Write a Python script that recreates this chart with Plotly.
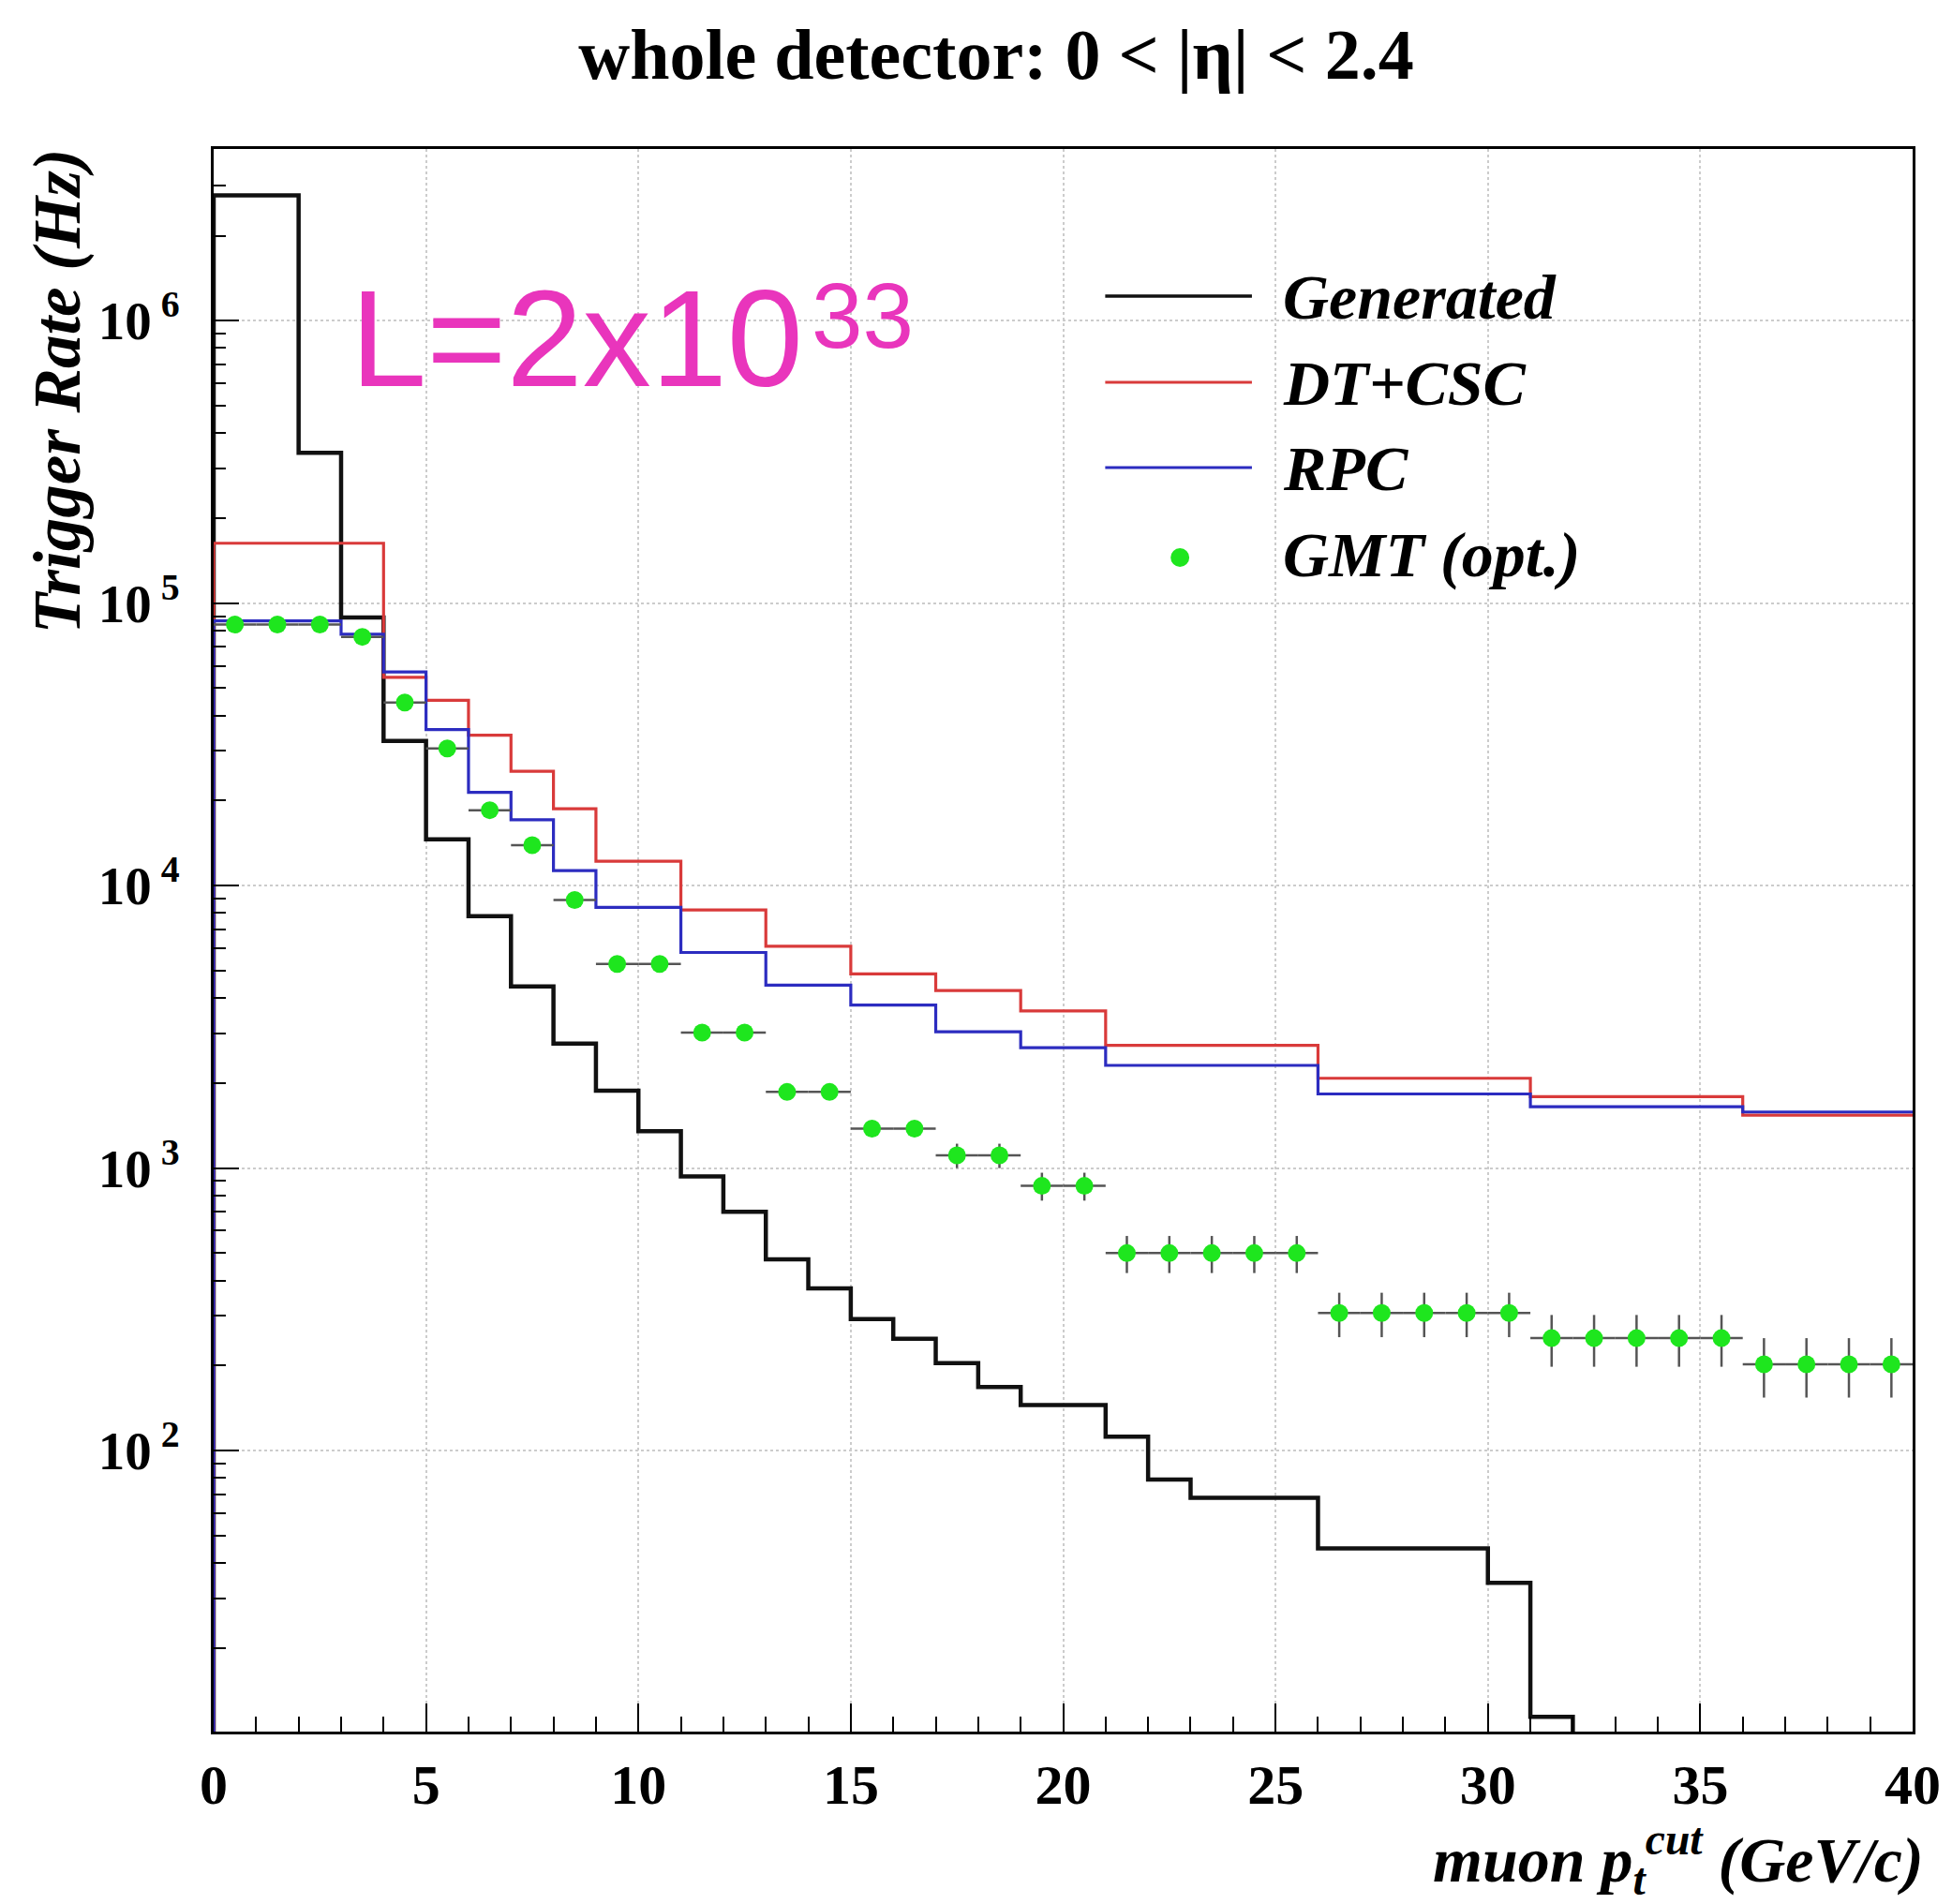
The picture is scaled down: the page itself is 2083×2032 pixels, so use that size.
import plotly.graph_objects as go

# ---------------- data ----------------
gen_edges = [0, 2, 3, 4, 5, 6, 7, 8, 9, 10, 11, 12, 13, 14, 15, 16, 17, 18, 19, 21, 22, 23, 26, 30, 31, 32, 40]
gen_vals = [2.78e6, 3.41e5, 8.9e4, 3.25e4, 1.46e4, 7.8e3, 4.4e3, 2.76e3, 1.88e3, 1.35e3,
            935, 700, 475, 375, 292, 249, 204, 168, 145, 112, 79, 68, 45, 34, 11.4, 1]

dt_edges = [0, 4, 5, 6, 7, 8, 9, 11, 13, 15, 17, 19, 21, 26, 31, 36, 40]
dt_vals = [1.63e5, 5.46e4, 4.53e4, 3.41e4, 2.54e4, 1.87e4, 1.22e4, 8.2e3, 6.1e3, 4.87e3,
           4.25e3, 3.6e3, 2.72e3, 2.08e3, 1.79e3, 1.54e3]

rpc_edges = [0, 3, 4, 5, 6, 7, 8, 9, 11, 13, 15, 17, 19, 21, 26, 31, 36, 40]
rpc_vals = [8.65e4, 7.76e4, 5.71e4, 3.57e4, 2.14e4, 1.71e4, 1.13e4, 8.37e3, 5.8e3, 4.44e3,
            3.78e3, 3.04e3, 2.67e3, 2.31e3, 1.83e3, 1.65e3, 1.58e3]

gmt_x = [0.5, 1.5, 2.5, 3.5, 4.5, 5.5, 6.5, 7.5, 8.5, 9.5, 10.5, 11.5, 12.5, 13.5, 14.5,
         15.5, 16.5, 17.5, 18.5, 19.5, 20.5, 21.5, 22.5, 23.5, 24.5, 25.5, 26.5, 27.5, 28.5,
         29.5, 30.5, 31.5, 32.5, 33.5, 34.5, 35.5, 36.5, 37.5, 38.5, 39.5]
gmt_vals = [8.4e4, 8.4e4, 8.4e4, 7.6e4, 4.45e4, 3.06e4, 1.85e4, 1.39e4, 8.9e3, 5.28e3, 5.28e3,
            3.02e3, 3.02e3, 1.86e3, 1.86e3, 1.38e3, 1.38e3, 1.11e3, 1.11e3, 865, 865,
            500, 500, 500, 500, 500, 307, 307, 307, 307, 307, 250, 250, 250, 250, 250,
            202, 202, 202, 202]
gmt_err = [1500, 1500, 1500, 1400, 1000, 700, 450, 350, 250, 200, 200, 150, 150, 110, 110,
           90, 90, 110, 110, 98, 98, 75, 75, 75, 75, 75, 55, 55, 55, 55, 55,
           52, 52, 52, 52, 52, 48, 48, 48, 48]

x_tick_vals = [0, 5, 10, 15, 20, 25, 30, 35, 40]
y_tick_vals = [1e2, 1e3, 1e4, 1e5, 1e6]
y_tick_text = ["10<sup> 2</sup>", "10<sup> 3</sup>", "10<sup> 4</sup>", "10<sup> 5</sup>", "10<sup> 6</sup>"]
legend_names = ["Generated", "DT+CSC", "RPC", "GMT (opt.)"]

# ---------------- styling ----------------
W, H = 2083, 2032
ML, MR, MT, MB = 228, 37, 159, 184
FLOOR = 1.0  # below visible range (clipped)

C_GEN = "#111111"
C_DT = "#d93a3a"
C_RPC = "#2c2cc0"
C_GMT = "#1ee61e"
C_MAG = "#e935bc"
SERIF = "Liberation Serif"


def px(X):
    return (X - ML) / (W - ML - MR)


def py(Y):
    return (H - MB - Y) / (H - MT - MB)


def step_xy(edges, vals):
    xs = [edges[0]] + list(edges[:-1]) + [edges[-1]]
    ys = [FLOOR] + list(vals) + [vals[-1]]
    return xs, ys


fig = go.Figure()
for edges, vals, col, wid in [(gen_edges, gen_vals, C_GEN, 4.5),
                              (dt_edges, dt_vals, C_DT, 3.2),
                              (rpc_edges, rpc_vals, C_RPC, 3.2)]:
    xs, ys = step_xy(edges, vals)
    fig.add_trace(go.Scatter(x=xs, y=ys, mode="lines", line=dict(color=col, width=wid, shape="hv"),
                             showlegend=False, hoverinfo="skip"))

fig.add_trace(go.Scatter(
    x=gmt_x, y=gmt_vals, mode="markers",
    marker=dict(color=C_GMT, size=19, line=dict(width=0)),
    error_x=dict(type="constant", value=0.5, color="#555555", thickness=2.5, width=0),
    error_y=dict(type="data", array=gmt_err, color="#555555", thickness=2.5, width=0),
    showlegend=False))

minor_y = [m * 10 ** k for k in range(1, 7) for m in range(2, 10) if m * 10 ** k < 4.0e6]

fig.update_xaxes(
    range=[0, 40], tickvals=x_tick_vals, ticks="inside", ticklen=30, tickwidth=2, tickcolor="black",
    showline=True, linecolor="black", linewidth=3, mirror=True,
    showgrid=True, gridcolor="#cccccc", griddash="dot", gridwidth=1.5, zeroline=False,
    minor=dict(dtick=1, ticks="inside", ticklen=16, tickwidth=2, tickcolor="black", showgrid=False),
    tickfont=dict(family=SERIF, size=60, color="black", weight="bold"),
    ticklabelstandoff=2)

fig.update_yaxes(
    type="log", range=[1.005, 6.608], tickmode="array", tickvals=y_tick_vals, ticktext=y_tick_text,
    ticks="inside", ticklen=27, tickwidth=2, tickcolor="black",
    showline=True, linecolor="black", linewidth=3, mirror=True,
    showgrid=True, gridcolor="#cccccc", griddash="dot", gridwidth=1.5, zeroline=False,
    minor=dict(tickmode="array", tickvals=minor_y, ticks="inside", ticklen=13, tickwidth=2,
               tickcolor="black", showgrid=False),
    tickfont=dict(family=SERIF, size=57, color="black", weight="bold"),
    ticklabelstandoff=22)

# ---------------- legend (manual) ----------------
shapes = []
annotations = []
leg_rows = [317, 409, 500, 592]
leg_cols = [C_GEN, C_DT, C_RPC]
for i, col in enumerate(leg_cols):
    shapes.append(dict(type="line", xref="paper", yref="paper",
                       x0=px(1182), x1=px(1339), y0=py(leg_rows[i] - 1), y1=py(leg_rows[i] - 1),
                       line=dict(color=col, width=3 if i else 3.5)))
r = 10
shapes.append(dict(type="circle", xref="paper", yref="paper",
                   x0=px(1262 - r), x1=px(1262 + r), y0=py(595 + r), y1=py(595 - r),
                   fillcolor=C_GMT, line=dict(width=0)))
for name, yy in zip(legend_names, leg_rows):
    annotations.append(dict(text=name, xref="paper", yref="paper", x=px(1370), y=py(yy),
                            xanchor="left", yanchor="middle", showarrow=False,
                            font=dict(family=SERIF, size=68, color="black", weight="bold", style="italic")))

# luminosity label (base + exponent as two texts)
annotations.append(dict(text="L=2x10", xref="paper", yref="paper", x=px(372), y=py(362),
                        xanchor="left", yanchor="middle", showarrow=False,
                        font=dict(family="Liberation Sans", size=146, color=C_MAG)))
annotations.append(dict(text="33", xref="paper", yref="paper", x=px(866), y=py(337),
                        xanchor="left", yanchor="middle", showarrow=False,
                        font=dict(family="Liberation Sans", size=98, color=C_MAG)))

# axis titles
annotations.append(dict(text="Trigger Rate (Hz)", xref="paper", yref="paper", x=px(62), y=py(417),
                        xanchor="center", yanchor="middle", textangle=-90, showarrow=False,
                        font=dict(family=SERIF, size=71, color="black", weight="bold", style="italic")))
annotations.append(dict(text="muon p<sub>t</sub><sup>cut</sup> (GeV/c)", xref="paper", yref="paper",
                        x=px(2060), y=py(1984),
                        xanchor="right", yanchor="middle", showarrow=False,
                        font=dict(family=SERIF, size=68, color="black", weight="bold", style="italic")))

fig.update_layout(
    width=W, height=H, autosize=False,
    margin=dict(l=ML, r=MR, t=MT, b=MB, pad=0),
    paper_bgcolor="white", plot_bgcolor="white",
    title=dict(text="whole detector: 0 < |η| < 2.4", x=1063 / W, xanchor="center",
               y=1 - 57 / H, yanchor="middle", yref="container",
               font=dict(family=SERIF, size=76, color="black", weight="bold")),
    shapes=shapes, annotations=annotations, showlegend=False)

fig.write_html("out.html")
